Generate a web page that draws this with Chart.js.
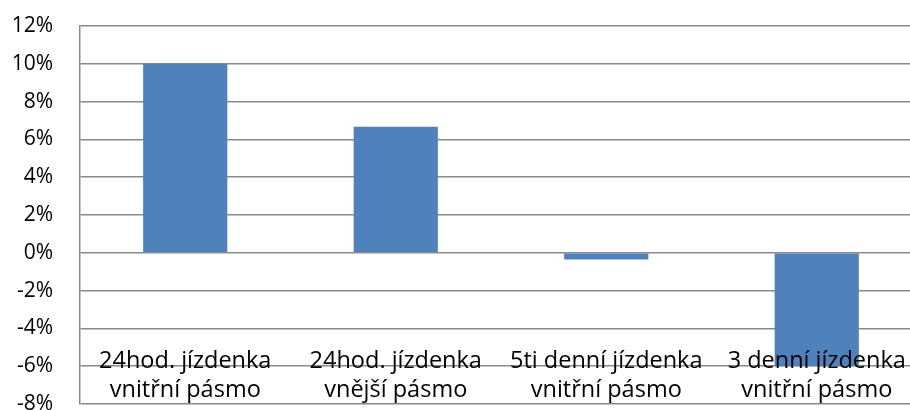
<!DOCTYPE html>
<html>
<head>
<meta charset="utf-8">
<script src="https://cdn.jsdelivr.net/npm/chart.js@4/dist/chart.umd.min.js"></script>
<style>
  html, body { margin: 0; padding: 0; background: #fff; overflow: hidden; }
  /* the plot runs a little past the right edge of the picture */
  #wrap { width: 925px; height: 410px; }
</style>
</head>
<body>
<div id="wrap"><canvas id="chart"></canvas></div>
<script>
// categories (two-line labels) and values in %
const categories = [
  ['24hod. jízdenka', 'vnitřní pásmo'],
  ['24hod. jízdenka', 'vnější pásmo'],
  ['5ti denní jízdenka', 'vnitřní pásmo'],
  ['3 denní jízdenka', 'vnitřní pásmo']
];
const changes = [10.0, 6.67, -0.35, -6.0];
const yTicks = [-8, -6, -4, -2, 0, 2, 4, 6, 8, 10, 12];

const font = "'Open Sans', sans-serif";

// Excel-style category labels sitting inside the bottom of the plot
const lowLabels = {
  id: 'lowLabels',
  afterDatasetsDraw(chart) {
    const { ctx, chartArea, scales } = chart;
    ctx.save();
    ctx.fillStyle = '#000';
    ctx.font = '23.5px ' + font;
    ctx.textAlign = 'center';
    ctx.textBaseline = 'alphabetic';
    categories.forEach((lines, i) => {
      const x = scales.x.getPixelForValue(i);
      lines.forEach((t, k) => {
        ctx.fillText(t, x, chartArea.bottom - 36 + k * 29);
      });
    });
    ctx.restore();
  }
};

new Chart(document.getElementById('chart'), {
  type: 'bar',
  data: {
    labels: categories,
    datasets: [{
      data: changes,
      backgroundColor: '#4f81bd',
      borderWidth: 0,
      categoryPercentage: 1,
      barPercentage: 0.40
    }]
  },
  options: {
    responsive: true,
    maintainAspectRatio: false,
    animation: false,
    layout: { padding: { left: 0, top: 26, right: 3, bottom: 6 } },
    plugins: { legend: { display: false }, tooltip: { enabled: false } },
    scales: {
      x: {
        grid: { display: false },
        border: { display: false },
        ticks: { display: false },
        afterFit: s => { s.height = 0; }
      },
      y: {
        min: -8, max: 12,
        afterBuildTicks: s => { s.ticks = yTicks.map(v => ({ value: v })); },
        grid: { color: '#8a8a8a', lineWidth: 1.5, drawTicks: false },
        border: { display: true, color: '#8a8a8a', width: 1.5 },
        ticks: {
          color: '#000',
          font: { family: font, size: 21 },
          padding: 27,
          callback: v => v + '%'
        },
        afterFit: s => { s.width = 80; s.paddingTop = 0; s.paddingBottom = 0; }
      }
    }
  },
  plugins: [lowLabels]
});
</script>
</body>
</html>
